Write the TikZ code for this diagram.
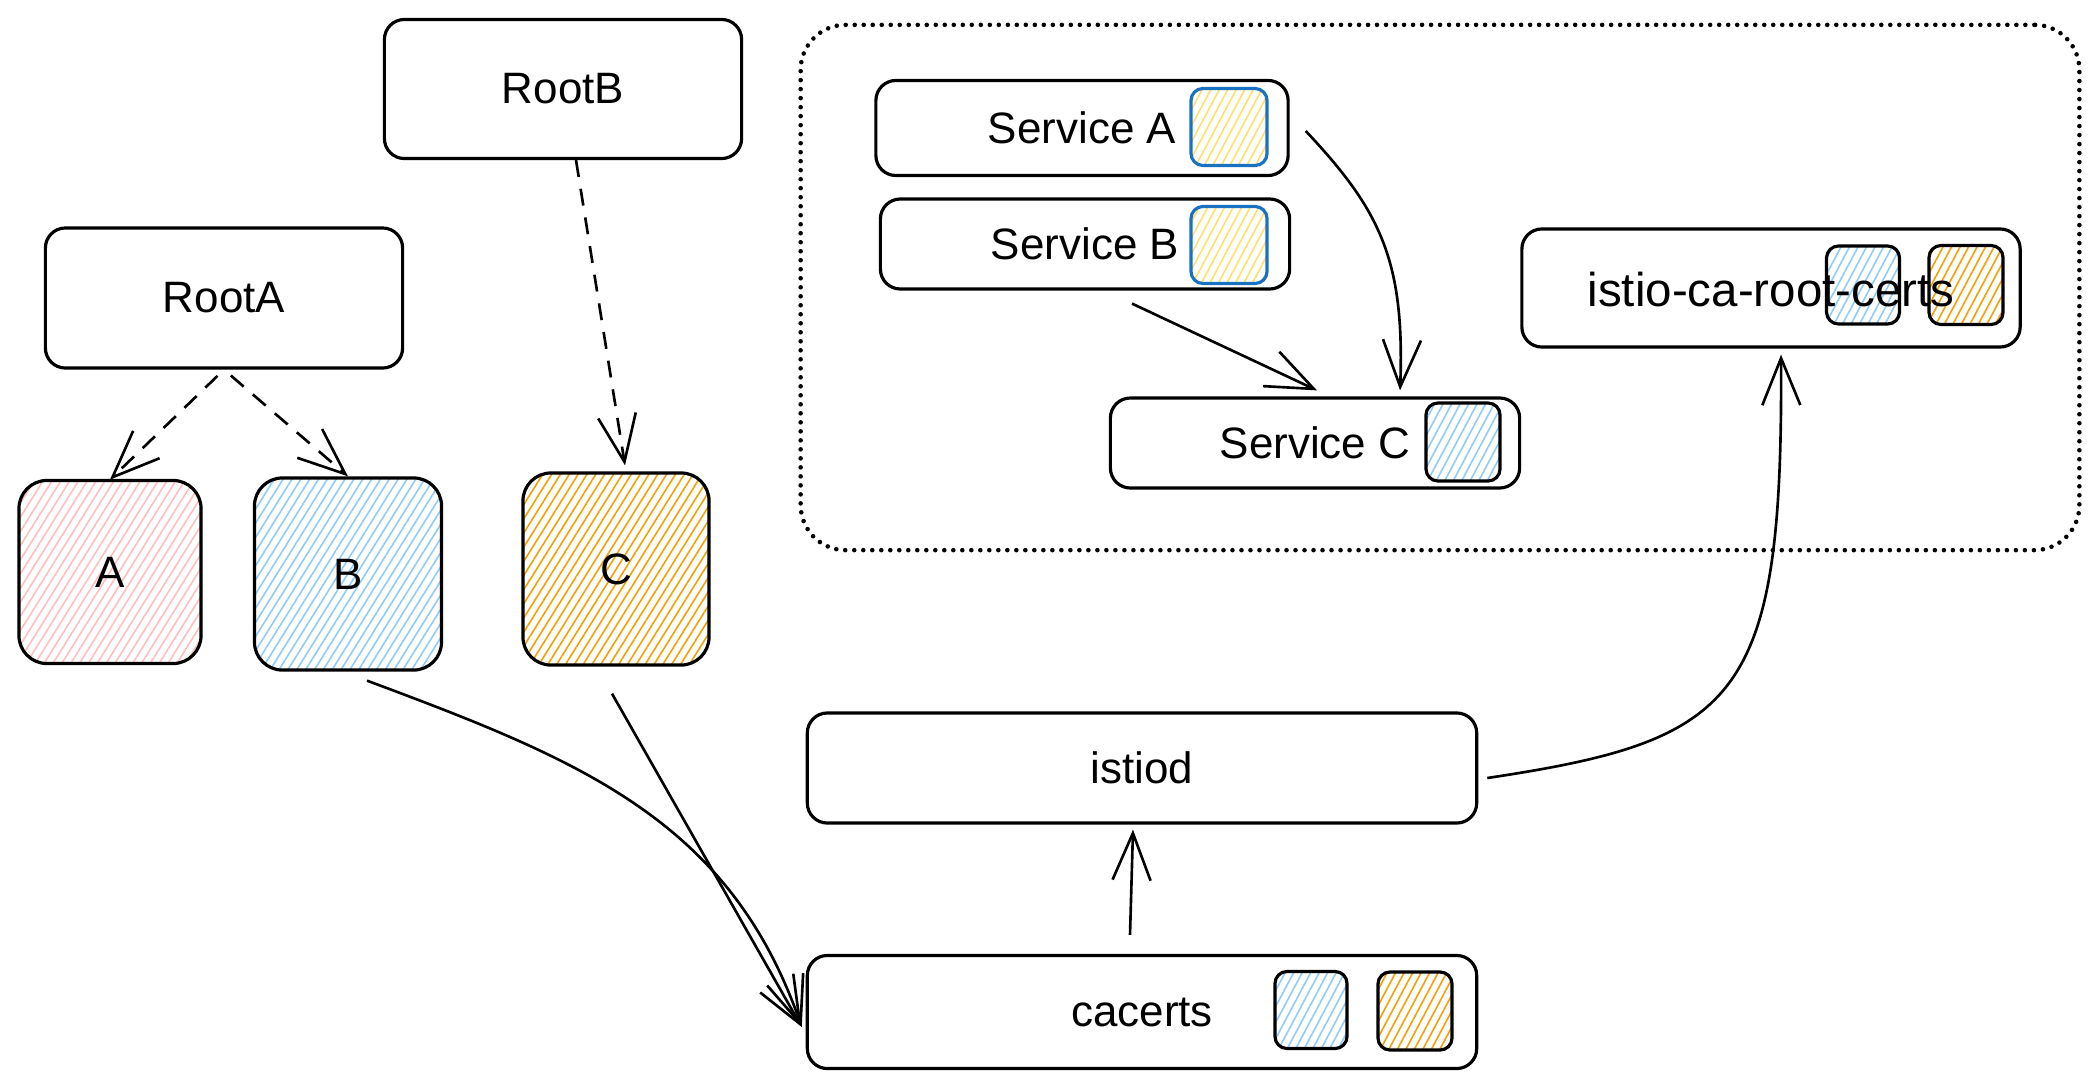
\documentclass[tikz,border=0pt]{standalone}
\usepackage{fontspec}
\setmainfont{Liberation Sans}
\usetikzlibrary{arrows.meta,patterns.meta}
\definecolor{pinkh}{HTML}{FFBDBD}
\definecolor{blueh}{HTML}{8FCBFA}
\definecolor{orangeh}{HTML}{F59F00}
\definecolor{yellowh}{HTML}{FFE066}
\definecolor{bluestroke}{HTML}{1971C2}
\begin{document}
\begin{tikzpicture}[x=0.01cm,y=-0.01cm,
  box/.style={draw=black, line width=0.9pt, rounded corners=0.2cm, inner sep=0pt,
    font=\fontsize{12.5}{15}\selectfont},
  bigsq/.style={box, rounded corners=0.28cm,
    pattern={Lines[angle=58,distance=0.075cm,line width=0.45pt]}, pattern color=#1},
  chip/.style={draw=black, line width=0.9pt, rounded corners=0.12cm, inner sep=0pt,
    pattern={Lines[angle=62,distance=0.075cm,line width=0.45pt]}, pattern color=#1},
  group/.style={draw=black, line width=1.3pt, rounded corners=0.45cm, line cap=round,
    dash pattern=on 0pt off 0.09cm, inner sep=0pt},
  arr/.style={draw=black, line width=0.75pt, -{Straight Barb[length=0.47cm,width=0.38cm,line width=0.75pt]}},
  darr/.style={arr, dash pattern=on 0.17cm off 0.12cm}
]
\useasboundingbox (0,0) rectangle (2095,1088);

% group container
\node[group, minimum width=12.78cm, minimum height=5.25cm] (grp) at (1440,287.5) {};

% roots
\node[box, minimum width=3.57cm, minimum height=1.39cm] (rootB) at (563,89) {RootB};
\node[box, minimum width=3.57cm, minimum height=1.40cm] (rootA) at (224,298) {RootA};

% certificate squares
\node[bigsq=pinkh, minimum width=1.82cm, minimum height=1.83cm] (A) at (110,572) {A};
\node[bigsq=blueh, minimum width=1.87cm, minimum height=1.92cm] (B) at (348,574) {B};
\node[bigsq=orangeh, minimum width=1.86cm, minimum height=1.92cm] (C) at (616,569) {C};

% services
\node[box, minimum width=4.12cm, minimum height=0.95cm] (svcA) at (1082,128) {Service A};
\node[chip=yellowh, draw=bluestroke, minimum width=0.76cm, minimum height=0.77cm] (svcAc) at (1229,127) {};
\node[box, minimum width=4.09cm, minimum height=0.90cm] (svcB) at (1085,244) {Service B};
\node[chip=yellowh, draw=bluestroke, minimum width=0.76cm, minimum height=0.77cm] (svcBc) at (1229,245) {};
\node[box, minimum width=4.09cm, minimum height=0.90cm] (svcC) at (1315,443) {Service C};
\node[chip=blueh, minimum width=0.74cm, minimum height=0.78cm] (svcCc) at (1463,442) {};

% istio-ca-root-certs
\node[box, minimum width=4.98cm, minimum height=1.18cm] (istioca) at (1771,288) {};
\node[chip=blueh, minimum width=0.73cm, minimum height=0.78cm] (icaB) at (1863,285) {};
\node[chip=orangeh, minimum width=0.74cm, minimum height=0.79cm] (icaC) at (1966,285) {};
\node[font=\fontsize{13.5}{15}\selectfont, inner sep=0pt] (icatext) at (1771,290) {istio-ca-root-certs};

% istiod and cacerts
\node[box, minimum width=6.69cm, minimum height=1.10cm] (istiod) at (1142,768) {istiod};
\node[box, minimum width=6.69cm, minimum height=1.13cm] (cacerts) at (1142,1012) {cacerts};
\node[chip=blueh, minimum width=0.72cm, minimum height=0.77cm] (cacB) at (1311,1010) {};
\node[chip=orangeh, minimum width=0.74cm, minimum height=0.78cm] (cacC) at (1415,1011) {};

% dashed arrows from roots
\draw[darr, shorten <=0.09cm] (rootA.south) -- (A.north);
\draw[darr, shorten <=0.09cm] (rootA.south) -- (B.north);
\draw[darr] ([xshift=0.13cm]rootB.south) -- ([xshift=0.09cm,yshift=0.06cm]C.north);

% B, C -> cacerts
\draw[arr] ([xshift=0.19cm,yshift=-0.09cm]B.south)
  .. controls (580,760) and (730,820) .. ([xshift=-0.04cm,yshift=-0.15cm]cacerts.west);
\draw[arr] ([xshift=-0.04cm,yshift=-0.27cm]C.south) -- ([xshift=-0.04cm,yshift=-0.15cm]cacerts.west);

% cacerts -> istiod
\draw[arr] ([xshift=-0.12cm,yshift=0.19cm]cacerts.north) -- ([xshift=-0.09cm,yshift=-0.05cm]istiod.south);

% istiod -> istio-ca-root-certs
\draw[arr] ([xshift=0.09cm,yshift=-0.1cm]istiod.east)
  .. controls (1740,740) and (1783,700) .. ([xshift=0.1cm,yshift=-0.06cm]istioca.south);

% services
\draw[arr] ([xshift=0.16cm,yshift=-0.03cm]svcA.east)
  .. controls (1380,210) and (1405,260) .. ([xshift=0.85cm,yshift=0.06cm]svcC.north);
\draw[arr] ([xshift=0.47cm,yshift=-0.13cm]svcB.south) -- ([xshift=0.02cm,yshift=0.06cm]svcC.north);
\end{tikzpicture}
\end{document}
